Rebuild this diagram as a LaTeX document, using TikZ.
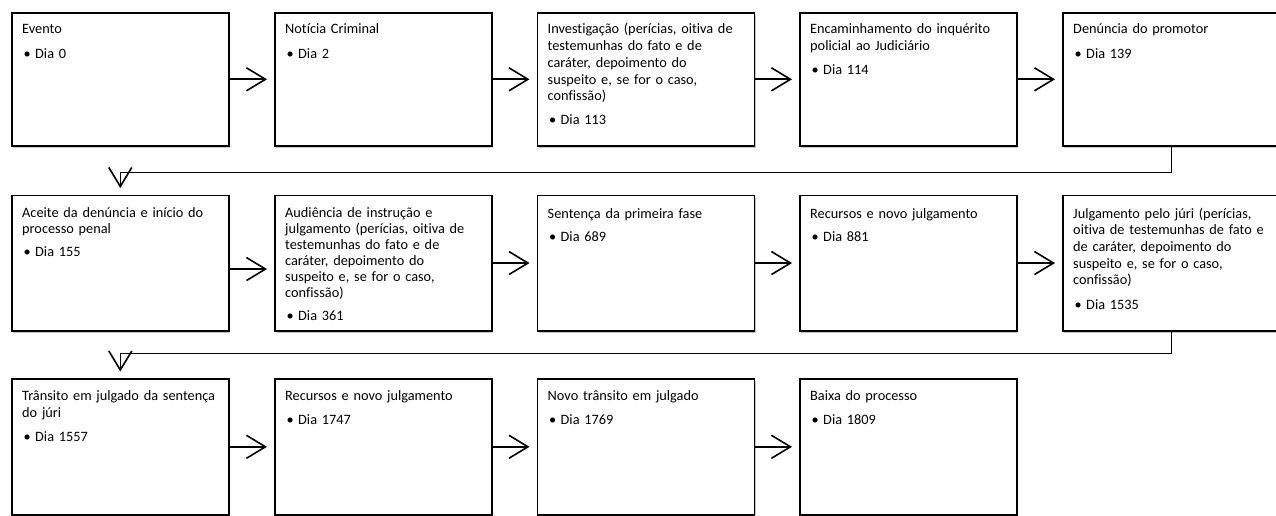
\documentclass[tikz,border=0pt]{standalone}
\usepackage{fontspec}
\setmainfont{Carlito}[Ligatures=NoCommon]
\usetikzlibrary{arrows.meta,shadows,calc}
\newcommand\bul[1]{\hspace*{1.5pt}\makebox[11.5pt][l]{•}#1}
% \mkcard{name}{left}{top}{height}{first baseline offset}{text}
\newcommand\mkcard[6]{%
  \node[card, minimum height=#4pt, anchor=north west] (#1) at (#2,#3) {};
  \node[txt, anchor=base west] (#1t) at ($(#1.north west)+(11,#5)$) {#6};
}
\begin{document}
\begin{tikzpicture}[x=1pt,y=-1pt,
  card/.style={draw=black, line width=1.6pt, fill=white, inner sep=0pt,
    minimum width=217pt,
    drop shadow={shadow xshift=1.5pt, shadow yshift=-2.5pt, opacity=0.22, fill=black}},
  txt/.style={inner sep=0pt, align=left, text width=205pt,
    font=\fontsize{14.3}{16.7}\selectfont},
  conn/.style={draw=black, line width=1.6pt,
    -{Straight Barb[length=19pt, width=23pt, line width=1.6pt]}}
]
\useasboundingbox (0,0) rectangle (1276,516);
% row 1
\mkcard{b1}{11}{12}{133}{22}{Evento\\[7.5pt]\bul{Dia 0}}
\mkcard{b2}{274}{12}{133}{22}{Notícia Criminal\\[7.5pt]\bul{Dia 2}}
\mkcard{b3}{536.5}{12}{133}{22}{Investigação (perícias, oitiva de\\testemunhas do fato e de\\caráter, depoimento do\\suspeito e, se for o caso,\\confissão)\\[7pt]\bul{Dia 113}}
\mkcard{b4}{799}{12}{133}{22}{Encaminhamento do inquérito\\policial ao Judiciário\\[7.5pt]\bul{Dia 114}}
\mkcard{b5}{1062}{12}{133}{22}{Denúncia do promotor\\[7.5pt]\bul{Dia 139}}
% row 2
\mkcard{b6}{11}{194.5}{135.5}{22.5}{Aceite da denúncia e início do\\processo penal\\[6.5pt]\bul{Dia 155}}
\mkcard{b7}{274}{194.5}{135.5}{22.5}{\baselineskip=16pt Audiência de instrução e\\julgamento (perícias, oitiva de\\testemunhas do fato e de\\caráter, depoimento do\\suspeito e, se for o caso,\\confissão)\\[6.7pt]\bul{Dia 361}}
\mkcard{b8}{536.5}{194.5}{135.5}{24}{Sentença da primeira fase\\[6.5pt]\bul{Dia 689}}
\mkcard{b9}{799}{194.5}{135.5}{24}{Recursos e novo julgamento\\[6.5pt]\bul{Dia 881}}
\mkcard{b10}{1062}{194.5}{135.5}{23.5}{Julgamento pelo júri (perícias,\\oitiva de testemunhas de fato e\\de caráter, depoimento do\\suspeito e, se for o caso,\\confissão)\\[8pt]\bul{Dia 1535}}
% row 3
\mkcard{b11}{11}{378}{136}{22.5}{Trânsito em julgado da sentença\\do júri\\[7.5pt]\bul{Dia 1557}}
\mkcard{b12}{274}{378}{136}{22.5}{Recursos e novo julgamento\\[7.5pt]\bul{Dia 1747}}
\mkcard{b13}{536.5}{378}{136}{22.5}{Novo trânsito em julgado\\[7.5pt]\bul{Dia 1769}}
\mkcard{b14}{799}{378}{136}{22.5}{Baixa do processo\\[7.5pt]\bul{Dia 1809}}
% horizontal connectors
\draw[conn] (b1.east) -- ([xshift=-7pt]b2.west);
\draw[conn] (b2.east) -- ([xshift=-7pt]b3.west);
\draw[conn] (b3.east) -- ([xshift=-7pt]b4.west);
\draw[conn] (b4.east) -- ([xshift=-7pt]b5.west);
\draw[conn] ([yshift=-6pt]b6.east) -- ([xshift=-7pt,yshift=-6pt]b7.west);
\draw[conn] (b7.east) -- ([xshift=-7pt]b8.west);
\draw[conn] (b8.east) -- ([xshift=-7pt]b9.west);
\draw[conn] (b9.east) -- ([xshift=-7pt]b10.west);
\draw[conn] (b11.east) -- ([xshift=-7pt]b12.west);
\draw[conn] (b12.east) -- ([xshift=-7pt]b13.west);
\draw[conn] (b13.east) -- ([xshift=-7pt]b14.west);
% row-to-row connectors
\draw[conn] (b5.south) -- ++(0,26) -| ([yshift=6.5pt]b6.north);
\draw[conn] (b10.south) -- ++(0,22) -| ([yshift=6.5pt]b11.north);
\end{tikzpicture}
\end{document}
